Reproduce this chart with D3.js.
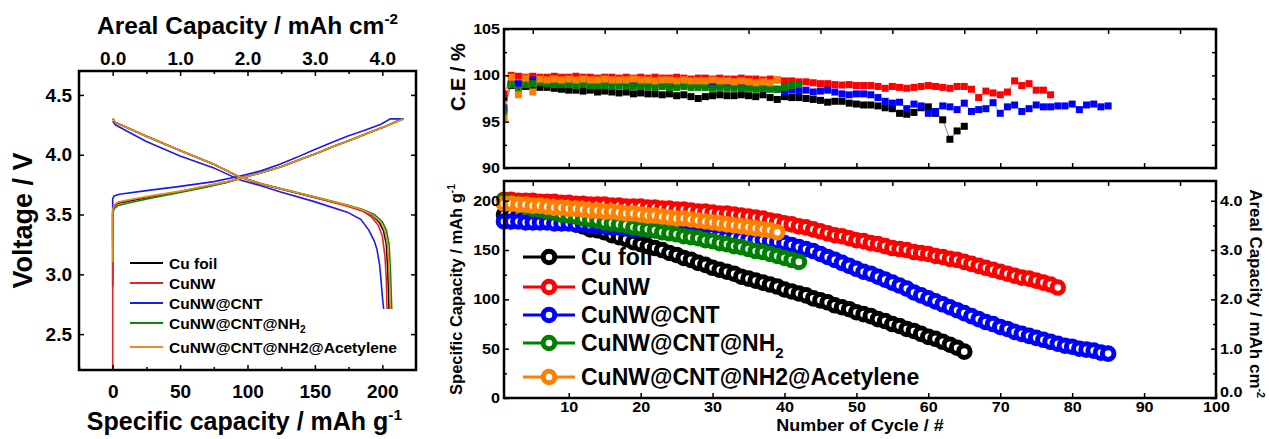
<!DOCTYPE html>
<html>
<head>
<meta charset="utf-8">
<script src="https://cdn.jsdelivr.net/npm/d3@7"></script>
<style>
  body { margin: 0; background: #fff; }
  svg { display: block; }
</style>
</head>
<body>
<svg id="chart" width="1269" height="439"></svg>
<script>
// ---------- series ----------
const seriesNames = ["Cu foil", "CuNW", "CuNW@CNT", "CuNW@CNT@NH2", "CuNW@CNT@NH2@Acetylene"];
const profileColors = ["#000000", "#e42324", "#1a1af2", "#0c880c", "#f08a24"];
const cycleColors = ["#000000", "#ff0000", "#0000ff", "#008000", "#ff8000"];

// ---------- voltage profiles: [specific capacity mAh/g, voltage V] ----------
const cuFoilCharge = [[0,2.9],[0,3.52],[1,3.57],[4,3.595],[15,3.62],[30,3.65],[50,3.69],[70,3.735],[85,3.77],[94,3.80],[110,3.85],[125,3.90],[139,3.96],[152,4.015],[164,4.07],[177,4.125],[189,4.18],[202,4.235],[215,4.30]];
const cuFoilDischarge = [[0,4.30],[2,4.27],[10,4.23],[25,4.155],[50,4.035],[75,3.92],[94,3.815],[110,3.755],[124,3.715],[149,3.645],[174,3.575],[185,3.535],[193,3.49],[198,3.43],[201,3.36],[203,3.25],[204,3.05],[204.6,2.85],[205,2.71]];
const cuNWCharge = [[0,2.0],[0,3.52],[1,3.575],[4,3.6],[15,3.625],[30,3.655],[50,3.695],[70,3.74],[85,3.775],[94,3.80],[110,3.85],[125,3.90],[139,3.96],[152,4.015],[164,4.07],[177,4.125],[189,4.18],[202,4.235],[216,4.30]];
const cuNWDischarge = [[0,4.30],[2,4.27],[10,4.23],[25,4.155],[50,4.035],[75,3.92],[94,3.815],[110,3.755],[124,3.715],[149,3.645],[174,3.57],[185,3.53],[192,3.48],[197,3.41],[200,3.32],[202,3.15],[203,2.95],[203.5,2.71]];
const cuNWCNTCharge = [[0,3.3],[0,3.63],[1,3.655],[5,3.67],[25,3.70],[50,3.735],[75,3.775],[94,3.82],[110,3.865],[124,3.92],[137,3.98],[149,4.04],[162,4.10],[174,4.155],[187,4.205],[199,4.255],[206,4.30],[216,4.30]];
const cuNWCNTDischarge = [[0,4.28],[2,4.25],[10,4.20],[25,4.11],[50,3.99],[75,3.89],[94,3.79],[110,3.74],[124,3.69],[149,3.61],[174,3.52],[184,3.46],[190,3.37],[194,3.28],[196,3.21],[198,3.08],[199,2.96],[200,2.82],[201,2.71]];
const cuNWCNTNH2Charge = [[0,3.2],[0,3.50],[1,3.55],[4,3.575],[15,3.605],[30,3.64],[50,3.685],[70,3.73],[85,3.77],[94,3.80],[110,3.85],[125,3.90],[139,3.96],[152,4.015],[164,4.07],[177,4.125],[189,4.18],[202,4.235],[215,4.30]];
const cuNWCNTNH2Discharge = [[0,4.30],[2,4.27],[10,4.23],[25,4.155],[50,4.035],[75,3.92],[94,3.815],[110,3.76],[124,3.72],[149,3.65],[174,3.58],[185,3.545],[194,3.50],[200,3.44],[203,3.37],[205,3.25],[206,3.05],[206.6,2.85],[207,2.71]];
const acetyleneCharge = [[0,3.1],[0,3.54],[1,3.58],[4,3.605],[15,3.63],[30,3.66],[50,3.695],[70,3.74],[85,3.775],[94,3.80],[110,3.85],[125,3.90],[139,3.96],[152,4.015],[164,4.07],[177,4.125],[189,4.18],[202,4.235],[216,4.30]];
const acetyleneDischarge = [[0,4.30],[2,4.27],[10,4.23],[25,4.155],[50,4.035],[75,3.92],[94,3.815],[110,3.758],[124,3.718],[149,3.648],[174,3.578],[185,3.54],[193,3.495],[199,3.435],[202,3.36],[204,3.24],[205,3.05],[205.6,2.85],[206,2.71]];

const profileCharge = [cuFoilCharge, cuNWCharge, cuNWCNTCharge, cuNWCNTNH2Charge, acetyleneCharge];
const profileDischarge = [cuFoilDischarge, cuNWDischarge, cuNWCNTDischarge, cuNWCNTNH2Discharge, acetyleneDischarge];

// ---------- cycling: specific discharge capacity (mAh/g) per cycle ----------
const capCuFoil = [186,186,185,184,183,182,181,180,179,178,176,174,171,170,168,165,163,161,158,156,154,152,150,147,145,142,140,137,135,132,130,128,126,123,121,119,117,115,113,110,108,106,104,101,99,97,94,92,90,87,85,83,80,78,75,73,70,68,65,62,60,57,54,51,47];
const capCuNW = [201,201,200,200,200,199,199,199,198,198,197,197,196,196,196,195,195,194,194,194,193,193,192,192,191,191,190,189,189,188,187,187,186,185,184,183,182,180,179,177,176,174,173,171,169,167,165,164,162,160,159,157,156,154,152,151,150,148,147,146,144,143,141,140,138,136,134,132,130,128,126,124,122,121,119,117,115,112];
const capCuNWCNT = [179,179,179,178,178,178,178,177,177,177,176,176,175,175,174,173,173,172,171,171,170,170,169,168,168,167,166,166,165,165,164,163,163,162,161,160,160,159,158,157,155,153,151,149,146,143,140,137,134,131,128,126,123,120,117,114,111,107,104,101,98,95,92,89,86,83,80,77,75,72,70,67,65,63,61,59,57,55,53,52,50,49,48,46,45];
const capCuNWCNTNH2 = [200,198,196,194,192,191,189,188,186,185,184,182,181,180,178,177,176,175,173,172,171,170,168,167,166,164,163,162,160,159,157,156,154,153,151,149,148,146,144,142,140,138];
const capAcetylene = [197,197,196,196,195,195,194,193,193,192,192,191,190,190,189,189,188,187,187,186,185,185,184,183,182,182,181,180,179,178,177,176,175,174,173,172,171,170,168];
const capacitySeries = [capCuFoil, capCuNW, capCuNWCNT, capCuNWCNTNH2, capAcetylene];

// ---------- cycling: coulombic efficiency (%) per cycle ----------
const ceCuFoil = [97.6,98.9,98.9,98.8,98.8,98.7,98.7,98.6,98.5,98.4,98.4,98.3,98.4,98.2,98.3,98.2,98.1,98.2,98.0,98.1,98.0,98.0,97.9,98.0,97.8,97.9,97.7,97.5,97.7,97.8,97.9,97.8,97.8,97.9,97.8,97.7,97.9,97.6,97.4,97.7,97.6,97.6,97.5,97.4,97.3,97.1,97.2,97.2,97.0,96.9,96.8,96.8,96.7,96.5,96.4,95.9,95.8,96.0,96.5,96.6,95.9,95.2,93.1,94.0,94.5];
const ceCuNW = [98.0,100.0,99.9,99.8,99.9,99.8,99.8,99.9,99.8,99.8,99.9,99.8,99.8,99.7,99.8,99.8,99.7,99.8,99.7,99.8,99.7,99.8,99.7,99.7,99.8,99.7,99.6,99.7,99.7,99.6,99.7,99.6,99.6,99.7,99.6,99.6,99.5,99.6,99.5,99.4,99.4,99.3,99.3,99.2,99.1,99.1,99.0,98.95,99.0,98.9,98.9,98.9,98.8,98.6,98.8,98.7,98.6,98.7,98.8,98.9,98.8,98.7,98.6,98.8,98.8,98.5,97.6,98.3,98.1,97.9,98.2,99.4,98.9,99.1,98.4,98.4,97.9];
const ceCuNWCNT = [96.5,99.1,99.1,99.4,99.5,99.6,99.3,99.3,99.4,99.3,99.3,99.3,99.3,99.2,99.3,99.2,99.2,99.2,99.1,99.2,99.1,99.1,99.1,99.1,99.0,99.1,99.0,99.0,99.0,99.0,98.9,98.9,98.9,98.8,98.8,98.8,98.7,98.6,98.5,98.2,98.4,98.3,98.4,98.2,98.3,98.4,98.2,98.0,97.9,98.0,98.0,97.9,97.6,97.2,97.0,97.1,96.4,96.9,96.7,95.9,96.1,96.7,96.6,96.3,97.0,96.1,96.3,96.4,97.05,95.9,96.6,96.8,96.1,96.4,96.8,96.6,96.6,96.7,96.7,96.9,96.3,96.8,96.9,96.6,96.7];
const ceCuNWCNTNH2 = [96.0,99.0,98.4,99.0,99.1,99.2,99.1,99.0,99.0,99.0,98.9,99.0,98.9,98.9,98.9,98.8,98.9,98.8,98.8,98.8,98.8,98.7,98.8,98.7,98.7,98.8,98.7,98.7,98.7,98.6,98.7,98.6,98.6,98.6,98.6,98.5,98.6,98.5,98.5,98.7,98.9,99.0];
const ceAcetylene = [95.4,99.8,97.9,99.7,98.2,99.6,99.5,99.6,99.5,99.6,99.5,99.6,99.5,99.5,99.6,99.5,99.5,99.5,99.6,99.5,99.5,99.4,99.5,99.5,99.4,99.5,99.4,99.4,99.4,99.5,99.4,99.4,99.3,99.4,99.3,99.2,99.3,99.2,99.5];
const ceSeries = [ceCuFoil, ceCuNW, ceCuNWCNT, ceCuNWCNTNH2, ceAcetylene];

// ---------- ticks ----------
const voltageTicks = [2.5, 3.0, 3.5, 4.0, 4.5];
const specificTicks = [0, 50, 100, 150, 200];
const specificMinorTicks = [-25, 25, 75, 125, 175];
const arealTopTicks = [0, 1, 2, 3, 4];
const arealTopMinorTicks = [0.5, 1.5, 2.5, 3.5];
const cycleTicks = [10, 20, 30, 40, 50, 60, 70, 80, 90, 100];
const cycleOffsetTicks = [5, 15, 25, 35, 45, 55, 65, 75, 85, 95];
const ceTicks = [90, 95, 100, 105];
const ceMinorTicks = [92.5, 97.5, 102.5];
const capacityTicks = [0, 50, 100, 150, 200];
const capacityMinorTicks = [25, 75, 125, 175];
const arealRightTicks = [0, 1, 2, 3, 4];
const arealRightMinorTicks = [0.5, 1.5, 2.5, 3.5];

// ---------- helpers ----------
const FONT = "'Liberation Sans', Arial, Helvetica, sans-serif";
const svg = d3.select("#chart");

function stretch(sel, k) {
  sel.each(function () {
    const w = this.getComputedTextLength();
    this.setAttribute("textLength", w * k);
    this.setAttribute("lengthAdjust", "spacingAndGlyphs");
  });
}

function addAxis(axis, tx, ty, fontSize, widen) {
  const g = svg.append("g").attr("transform", `translate(${tx},${ty})`).call(axis);
  g.select(".domain").remove();
  g.selectAll(".tick line").attr("stroke", "#000").attr("stroke-width", 1.5);
  g.selectAll(".tick text")
    .attr("fill", "#000")
    .attr("font-family", FONT)
    .attr("font-weight", "bold")
    .attr("font-size", fontSize);
  if (widen) stretch(g.selectAll(".tick text"), widen);
  return g;
}

function frame(x0, y0, x1, y1) {
  svg.append("rect")
    .attr("x", x0).attr("y", y0)
    .attr("width", x1 - x0).attr("height", y1 - y0)
    .attr("fill", "none").attr("stroke", "#000").attr("stroke-width", 2.5);
}

function label(x, y, parts, opts) {
  const t = svg.append("text")
    .attr("font-family", FONT).attr("font-weight", "bold")
    .attr("font-size", opts.size).attr("fill", "#000")
    .attr("text-anchor", opts.anchor || "start")
    .attr("transform", `translate(${x},${y}) rotate(${opts.rotate || 0})`);
  parts.forEach(p => {
    const s = t.append("tspan").text(p.text);
    if (p.sup) s.attr("font-size", opts.size * 0.62).attr("dy", -opts.size * 0.4);
    if (p.sub) s.attr("font-size", opts.size * 0.65).attr("dy", opts.size * 0.3);
  });
  return t;
}

function nameParts(name) {
  return name === "CuNW@CNT@NH2" ? [{ text: "CuNW@CNT@NH" }, { text: "2", sub: true }] : [{ text: name }];
}

// =====================================================================
// Left panel: charge / discharge voltage profiles
// =====================================================================
const LP = { x0: 79, x1: 416, y0: 71, y1: 370 };
const xSpec = d3.scaleLinear().domain([-25, 225]).range([LP.x0, LP.x1]);
const xArealTop = d3.scaleLinear().domain([-0.5, 4.5]).range([LP.x0, LP.x1]);
const yVolt = d3.scaleLinear().domain([2.2, 4.7]).range([LP.y1, LP.y0]);

svg.append("clipPath").attr("id", "clipLeft").append("rect")
  .attr("x", LP.x0).attr("y", LP.y0).attr("width", LP.x1 - LP.x0).attr("height", LP.y1 - LP.y0);

const profileLine = d3.line().x(d => xSpec(d[0])).y(d => yVolt(d[1]));
const curves = svg.append("g").attr("clip-path", "url(#clipLeft)");
seriesNames.forEach((n, i) => {
  curves.append("path").datum(profileCharge[i]).attr("d", profileLine)
    .attr("fill", "none").attr("stroke", profileColors[i]).attr("stroke-width", 1.6);
  curves.append("path").datum(profileDischarge[i]).attr("d", profileLine)
    .attr("fill", "none").attr("stroke", profileColors[i]).attr("stroke-width", 1.6);
});

// axes
addAxis(d3.axisBottom(xSpec).tickValues(specificTicks).tickSizeInner(-5).tickSizeOuter(0).tickPadding(14.5).tickFormat(d3.format("d")), 0, LP.y1, 19);
addAxis(d3.axisBottom(xSpec).tickValues(specificMinorTicks).tickSizeInner(-3).tickSizeOuter(0).tickFormat(""), 0, LP.y1, 19);
addAxis(d3.axisTop(xArealTop).tickValues(arealTopTicks).tickSizeInner(-5).tickSizeOuter(0).tickPadding(6).tickFormat(d3.format(".1f")), 0, LP.y0, 19);
addAxis(d3.axisTop(xArealTop).tickValues(arealTopMinorTicks).tickSizeInner(-3).tickSizeOuter(0).tickFormat(""), 0, LP.y0, 19);
addAxis(d3.axisLeft(yVolt).tickValues(voltageTicks).tickSizeInner(-5).tickSizeOuter(0).tickPadding(7).tickFormat(d3.format(".1f")), LP.x0, 0, 19);
addAxis(d3.axisRight(yVolt).tickValues(voltageTicks).tickSizeInner(-5).tickSizeOuter(0).tickFormat(""), LP.x1, 0, 19);
frame(LP.x0, LP.y0, LP.x1, LP.y1);

label((LP.x0 + LP.x1) / 2, 34, [{ text: "Areal Capacity / mAh cm" }, { text: "-2", sup: true }], { size: 24.5, anchor: "middle" });
label((LP.x0 + LP.x1) / 2 - 3, 430, [{ text: "Specific capacity / mAh g" }, { text: "-1", sup: true }], { size: 25, anchor: "middle" });
label(32, (LP.y0 + LP.y1) / 2, [{ text: "Voltage / V" }], { size: 27, anchor: "middle", rotate: -90 });

// legend
const leftLegendY = [263, 283, 303, 323, 347];
seriesNames.forEach((n, i) => {
  svg.append("line").attr("x1", 130).attr("x2", 163).attr("y1", leftLegendY[i]).attr("y2", leftLegendY[i])
    .attr("stroke", profileColors[i]).attr("stroke-width", 2);
  const parts = i === 4 ? [{ text: n }] : nameParts(n);
  label(169, leftLegendY[i] + 5.5, parts, { size: 15.5 });
});

// =====================================================================
// Right panels: coulombic efficiency and cycling capacity
// =====================================================================
const RX = { x0: 504, x1: 1216 };
const CEY = { y0: 29, y1: 168 };
const CAPY = { y0: 181, y1: 398 };
const xCycle = d3.scaleLinear().domain([1, 100]).range([RX.x0, RX.x1]);
const yCE = d3.scaleLinear().domain([90, 105]).range([CEY.y1, CEY.y0]);
const yCap = d3.scaleLinear().domain([0, 220]).range([CAPY.y1, CAPY.y0]);
const yArealRight = d3.scaleLinear().domain([0, 4.4]).range([CAPY.y1, CAPY.y0]);

svg.append("clipPath").attr("id", "clipCE").append("rect")
  .attr("x", RX.x0).attr("y", CEY.y0).attr("width", RX.x1 - RX.x0).attr("height", CEY.y1 - CEY.y0);

// CE: squares joined by thin lines
const ceLayer = svg.append("g").attr("clip-path", "url(#clipCE)");
const ceLine = d3.line().x((d, i) => xCycle(i + 1)).y(d => yCE(d));
const SQ = 7;
ceSeries.forEach((vals, i) => {
  ceLayer.append("path").datum(vals).attr("d", ceLine)
    .attr("fill", "none").attr("stroke", cycleColors[i]).attr("stroke-width", 0.8).attr("opacity", 0.6);
  ceLayer.append("g").selectAll("rect").data(vals).join("rect")
    .attr("x", (d, j) => xCycle(j + 1) - SQ / 2)
    .attr("y", d => yCE(d) - SQ / 2)
    .attr("width", SQ).attr("height", SQ)
    .attr("fill", cycleColors[i]);
});

// capacity: open circles with thick rims joined by lines
const capLine = d3.line().x((d, i) => xCycle(i + 1)).y(d => yCap(d));
const MR = 5.8, MW = 5;
capacitySeries.forEach((vals, i) => {
  svg.append("path").datum(vals).attr("d", capLine)
    .attr("fill", "none").attr("stroke", cycleColors[i]).attr("stroke-width", 3);
  svg.append("g").selectAll("circle").data(vals).join("circle")
    .attr("cx", (d, j) => xCycle(j + 1))
    .attr("cy", d => yCap(d))
    .attr("r", MR)
    .attr("fill", "#fff")
    .attr("stroke", cycleColors[i]).attr("stroke-width", MW);
});

// CE axes
const TF = 14, WK = 1.15;
addAxis(d3.axisLeft(yCE).tickValues(ceTicks).tickSizeInner(-5).tickSizeOuter(0).tickPadding(4).tickFormat(d3.format("d")), RX.x0, 0, TF, WK);
addAxis(d3.axisLeft(yCE).tickValues(ceMinorTicks).tickSizeInner(-3).tickSizeOuter(0).tickFormat(""), RX.x0, 0, TF);
addAxis(d3.axisRight(yCE).tickValues(ceTicks.concat(ceMinorTicks)).tickSizeInner(-4).tickSizeOuter(0).tickFormat(""), RX.x1, 0, TF);
addAxis(d3.axisBottom(xCycle).tickValues(cycleTicks.slice(0, 9)).tickSizeInner(-5).tickSizeOuter(0).tickFormat(""), 0, CEY.y1, TF);
addAxis(d3.axisTop(xCycle).tickValues(cycleOffsetTicks).tickSizeInner(-5).tickSizeOuter(0).tickFormat(""), 0, CEY.y0, TF);
frame(RX.x0, CEY.y0, RX.x1, CEY.y1);

// capacity axes
addAxis(d3.axisLeft(yCap).tickValues(capacityTicks).tickSizeInner(-5).tickSizeOuter(0).tickPadding(4).tickFormat(d3.format("d")), RX.x0, 0, TF, WK);
addAxis(d3.axisLeft(yCap).tickValues(capacityMinorTicks).tickSizeInner(-3).tickSizeOuter(0).tickFormat(""), RX.x0, 0, TF);
const arealAxis = addAxis(d3.axisRight(yArealRight).tickValues(arealRightTicks).tickSizeInner(-5).tickSizeOuter(0).tickPadding(4).tickFormat(d3.format(".1f")), RX.x1, 0, TF, WK);
// the zero label sits a little higher so it clears the cycle-axis "100"
arealAxis.selectAll(".tick").filter(d => d === 0).select("text").attr("y", -6);
addAxis(d3.axisRight(yArealRight).tickValues(arealRightMinorTicks).tickSizeInner(-3).tickSizeOuter(0).tickFormat(""), RX.x1, 0, TF);
addAxis(d3.axisBottom(xCycle).tickValues(cycleTicks).tickSizeInner(-5).tickSizeOuter(0).tickPadding(4).tickFormat(d3.format("d")), 0, CAPY.y1, TF, WK);
addAxis(d3.axisTop(xCycle).tickValues(cycleOffsetTicks).tickSizeInner(-5).tickSizeOuter(0).tickFormat(""), 0, CAPY.y0, TF);
frame(RX.x0, CAPY.y0, RX.x1, CAPY.y1);

// axis titles
stretch(label(860, 431, [{ text: "Number of Cycle / #" }], { size: 16, anchor: "middle" }), 1.12);
label(465, 77, [{ text: "C.E / %" }], { size: 20, anchor: "middle", rotate: -90 });
label(462, (CAPY.y0 + CAPY.y1) / 2, [{ text: "Specific Capacity / mAh g" }, { text: "-1", sup: true }], { size: 16.5, anchor: "middle", rotate: -90 });
label(1250, (CAPY.y0 + CAPY.y1) / 2 + 4, [{ text: "Areal Capacity / mAh cm" }, { text: "-2", sup: true }], { size: 17, anchor: "middle", rotate: 90 });

// legend
const rightLegendY = [257, 287, 315, 343, 377];
seriesNames.forEach((n, i) => {
  const y = rightLegendY[i];
  svg.append("line").attr("x1", 523).attr("x2", 575).attr("y1", y).attr("y2", y)
    .attr("stroke", cycleColors[i]).attr("stroke-width", 3);
  svg.append("circle").attr("cx", 549).attr("cy", y).attr("r", MR)
    .attr("fill", "#fff").attr("stroke", cycleColors[i]).attr("stroke-width", MW);
  label(581, y + 8, nameParts(n), { size: 23 });
});
</script>
</body>
</html>
